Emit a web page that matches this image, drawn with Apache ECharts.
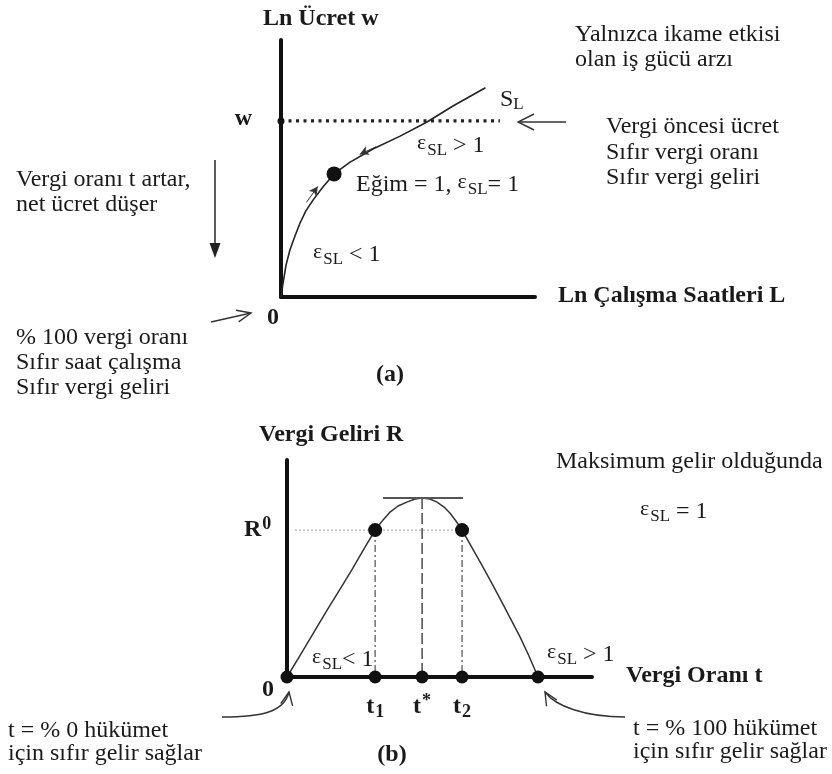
<!DOCTYPE html>
<html>
<head>
<meta charset="utf-8">
<script src="https://cdn.jsdelivr.net/npm/echarts@6/dist/echarts.min.js"></script>
<style>
  html, body { margin: 0; padding: 0; background: #ffffff; }
  #chart { width: 832px; height: 774px; }
</style>
</head>
<body>
<div id="chart"></div>
<script>
// Panel (a): labour supply with only a substitution effect, log wage vs log hours
const supplyLnL = [0, 0.04, 0.08, 0.20, 0.35, 0.55, 0.75, 0.98, 1.26, 1.65, 2.09, 2.72, 3.62, 4.69, 5.75, 6.77, 8.03];
const supplyLnW = [0, 0.27, 0.54, 1.25, 1.83, 2.37, 2.88, 3.35, 3.77, 4.28, 4.79, 5.25, 5.76, 6.26, 6.81, 7.43, 8.13];
const unitElasticPoint = [2.09, 4.79];
const preTaxWage = 6.85;
const wageLineEnd = 8.62;

// Panel (b): Laffer curve, tax revenue vs tax rate
const taxRate = [0, 0.43, 0.85, 1.28, 1.74, 2.13, 2.49, 2.69, 2.89, 3.15, 3.38, 3.64, 3.93, 4.20, 4.43,
                 4.69, 4.92, 5.15, 5.34, 5.54, 5.74, 6.00, 6.33, 6.66, 6.98, 7.31, 7.64, 7.93, 8.23];
const revenue = [0, 1.00, 1.99, 3.00, 4.05, 4.95, 5.82, 6.30, 6.77, 7.24, 7.60, 7.88, 8.06, 8.20, 8.25,
                 8.20, 8.06, 7.83, 7.56, 7.19, 6.77, 6.12, 5.30, 4.46, 3.62, 2.74, 1.85, 0.98, 0];
const t1 = 2.89, tStar = 4.43, t2 = 5.74, tFull = 8.23;
const r0 = 6.77, rMax = 8.25;
const tangentSpan = [3.15, 5.77];
const r0LineStart = 0.26;

const SERIF = "'Liberation Serif', 'Times New Roman', serif";
const INK = '#1a1a1a';
const FS = 24;

const zip = (xs, ys) => xs.map((x, i) => [x, ys[i]]);

// rich text styles shared by annotations (epsilon with subscript, sub/superscripts)
function richSet(size) {
  return {
    eps: { fontFamily: SERIF, fontSize: size - 2, fontWeight: 'normal', fill: INK, color: INK, padding: [0, 1, 6, 0] },
    sl: { fontFamily: SERIF, fontSize: size - 7, fontWeight: 'normal', fill: INK, color: INK, padding: [9, 0, 0, 0] },
    n: { fontFamily: SERIF, fontSize: size, fontWeight: 'normal', fill: INK, color: INK },
    b: { fontFamily: SERIF, fontSize: size, fontWeight: 'bold', fill: INK, color: INK },
    bsub: { fontFamily: SERIF, fontSize: size - 6, fontWeight: 'bold', fill: INK, color: INK, padding: [11, 0, 0, 1] },
    bsup: { fontFamily: SERIF, fontSize: size - 6, fontWeight: 'bold', fill: INK, color: INK, padding: [0, 0, 11, 1] },
    sub: { fontFamily: SERIF, fontSize: size - 7, fontWeight: 'normal', fill: INK, color: INK, padding: [10, 0, 0, 0] }
  };
}
const RICH = richSet(FS);

function txt(x, y, text, opt) {
  opt = opt || {};
  return {
    type: 'text', x: x, y: y, silent: true, z: 10,
    style: {
      text: text,
      fontFamily: SERIF,
      fontSize: opt.size || FS,
      fontWeight: opt.bold ? 'bold' : 'normal',
      fill: INK,
      lineHeight: opt.lh || 25,
      textAlign: opt.align || 'left',
      textVerticalAlign: opt.valign || 'middle',
      rich: RICH
    }
  };
}

function segment(x1, y1, x2, y2, w) {
  return { type: 'line', silent: true, z: 10, shape: { x1, y1, x2, y2 }, style: { stroke: '#333', lineWidth: w || 1.4 } };
}
function chevron(tipX, tipY, fromX, fromY, len, half) {
  const dx = tipX - fromX, dy = tipY - fromY, d = Math.hypot(dx, dy);
  const ux = dx / d, uy = dy / d, px = -uy, py = ux;
  const bx = tipX - ux * len, by = tipY - uy * len;
  return {
    type: 'polyline', silent: true, z: 10,
    shape: { points: [[bx + px * half, by + py * half], [tipX, tipY], [bx - px * half, by - py * half]] },
    style: { stroke: '#333', lineWidth: 1.4, fill: null }
  };
}
function curve(x1, y1, c1x, c1y, c2x, c2y, x2, y2) {
  return {
    type: 'bezierCurve', silent: true, z: 10,
    shape: { x1, y1, cpx1: c1x, cpy1: c1y, cpx2: c2x, cpy2: c2y, x2, y2 },
    style: { stroke: '#333', lineWidth: 1.4, fill: null }
  };
}

const axisStyle = {
  type: 'value', min: 0, max: 10,
  axisLine: { show: true, onZero: false, lineStyle: { color: '#111', width: 4 } },
  axisTick: { show: false }, axisLabel: { show: false }, splitLine: { show: false }
};

function plainLine(data, axis, style, z) {
  return {
    type: 'line', xAxisIndex: axis, yAxisIndex: axis, data: data,
    showSymbol: false, symbol: 'none', clip: false, silent: true, z: z || 2,
    smooth: false, lineStyle: Object.assign({ join: 'round', cap: 'round' }, style)
  };
}

const dotStyle = { color: '#111', opacity: 1 };

const chart = echarts.init(document.getElementById('chart'), null, { renderer: 'canvas' });

const option = {
  backgroundColor: '#ffffff',
  animation: false,
  grid: [
    { left: 281, top: 40, width: 254, height: 257 },
    { left: 287, top: 460, width: 305, height: 217 }
  ],
  xAxis: [
    Object.assign({ gridIndex: 0 }, axisStyle),
    Object.assign({ gridIndex: 1 }, axisStyle)
  ],
  yAxis: [
    Object.assign({ gridIndex: 0 }, axisStyle),
    Object.assign({ gridIndex: 1 }, axisStyle)
  ],
  series: [
    // (a) supply curve S_L with small arrows along the tangent at the unit-elastic point
    Object.assign(plainLine(zip(supplyLnL, supplyLnW), 0, { color: '#222', width: 1.6 }), {
      markLine: {
        silent: true, symbol: ['none', 'arrow'], symbolSize: [7, 9],
        label: { show: false },
        lineStyle: { color: '#333', width: 1, type: 'solid' },
        data: [
          [{ coord: [3.75, 5.85] }, { coord: [3.1, 5.55] }],
          [{ coord: [1.0, 3.68] }, { coord: [1.45, 4.3] }]
        ]
      }
    }),
    // (a) pre-tax wage level
    plainLine([[0, preTaxWage], [wageLineEnd, preTaxWage]], 0, { color: '#222', width: 3.2, type: [3, 4.5], cap: 'butt' }),
    {
      type: 'scatter', xAxisIndex: 0, yAxisIndex: 0, clip: false, silent: true, z: 4,
      itemStyle: dotStyle,
      data: [
        { value: unitElasticPoint, symbolSize: 15 },
        { value: [0, preTaxWage], symbolSize: 7 }
      ]
    },
    // (b) Laffer curve
    plainLine(zip(taxRate, revenue), 1, { color: '#333', width: 1.5 }),
    // (b) tangent at the revenue maximum
    plainLine([[tangentSpan[0], rMax], [tangentSpan[1], rMax]], 1, { color: '#555', width: 2.2, cap: 'butt' }),
    // (b) revenue level R0
    plainLine([[r0LineStart, r0], [t2, r0]], 1, { color: '#9a9a9a', width: 1, type: [2, 2], cap: 'butt' }),
    // (b) drop lines at t1, t*, t2
    plainLine([[t1, r0], [t1, 0]], 1, { color: '#666', width: 1.4, type: [7, 3, 2, 3], cap: 'butt' }),
    plainLine([[tStar, rMax], [tStar, 0]], 1, { color: '#555', width: 1.6, type: [11, 4], cap: 'butt' }),
    plainLine([[t2, r0], [t2, 0]], 1, { color: '#666', width: 1.4, type: [7, 3, 2, 3], cap: 'butt' }),
    {
      type: 'scatter', xAxisIndex: 1, yAxisIndex: 1, clip: false, silent: true, z: 4,
      symbolSize: 14, itemStyle: dotStyle,
      data: [[t1, r0], [t2, r0]]
    },
    {
      type: 'scatter', xAxisIndex: 1, yAxisIndex: 1, clip: false, silent: true, z: 4,
      symbolSize: 13, itemStyle: dotStyle,
      label: {
        show: false, position: 'bottom', distance: 9,
        fontFamily: SERIF, fontSize: FS, fontWeight: 'bold', color: INK,
        rich: { b: RICH.b, bsub: RICH.bsub, bsup: RICH.bsup }
      },
      data: [
        { value: [0, 0] },
        { value: [t1, 0], label: { show: true, formatter: '{b|t}{bsub|1}' } },
        { value: [tStar, 0], label: { show: true, formatter: '{b|t}{bsup|*}' } },
        { value: [t2, 0], label: { show: true, formatter: '{b|t}{bsub|2}' } },
        { value: [tFull, 0] }
      ]
    }
  ],
  graphic: [
    // ---- panel (a) texts ----
    txt(263, 19, 'Ln Ücret w', { bold: true }),
    txt(252, 119, 'w', { bold: true, align: 'right' }),
    txt(500, 100, '{n|S}{sub|L}'),
    txt(417, 146, '{eps|ε}{sl|SL}{n| > 1}'),
    txt(356, 185, '{n|Eğim = 1, }{eps|ε}{sl|SL}{n|= 1}'),
    txt(313, 255, '{eps|ε}{sl|SL}{n| < 1}'),
    txt(558, 296, 'Ln Çalışma Saatleri L', { bold: true }),
    txt(273, 318, '0', { bold: true, align: 'center' }),
    txt(390, 375, '(a)', { bold: true, align: 'center' }),
    txt(575, 22, 'Yalnızca ikame etkisi\nolan iş gücü arzı', { valign: 'top', lh: 25 }),
    txt(606, 114, 'Vergi öncesi ücret\nSıfır vergi oranı\nSıfır vergi geliri', { valign: 'top', lh: 25.5 }),
    txt(16, 167, 'Vergi oranı t artar,\nnet ücret düşer', { valign: 'top', lh: 25 }),
    txt(16, 325, '% 100 vergi oranı\nSıfır saat çalışma\nSıfır vergi geliri', { valign: 'top', lh: 25 }),
    // ---- panel (a) arrows ----
    segment(566, 122, 518, 122),
    chevron(518, 122, 566, 122, 16, 8),
    segment(215, 160, 215, 246, 1.6),
    {
      type: 'polygon', silent: true, z: 10,
      shape: { points: [[209.5, 243], [220.5, 243], [215, 258]] },
      style: { fill: '#222' }
    },
    segment(211, 322, 251, 313),
    chevron(251, 313, 211, 322, 14, 6),
    // ---- panel (b) texts ----
    txt(259, 435, 'Vergi Geliri R', { bold: true }),
    txt(244, 530, '{b|R}{bsup|0}'),
    txt(556, 462, 'Maksimum gelir olduğunda'),
    txt(640, 512, '{eps|ε}{sl|SL}{n| = 1}'),
    txt(312, 660, '{eps|ε}{sl|SL}{n|< 1}'),
    txt(547, 655, '{eps|ε}{sl|SL}{n| > 1}'),
    txt(626, 676, 'Vergi Oranı t', { bold: true }),
    txt(268, 690, '0', { bold: true, align: 'center' }),
    txt(392, 755, '(b)', { bold: true, align: 'center' }),
    txt(8, 719, 't = % 0 hükümet\niçin sıfır gelir sağlar', { valign: 'top', lh: 23 }),
    txt(633, 717, 't = % 100 hükümet\niçin sıfır gelir sağlar', { valign: 'top', lh: 23 }),
    // ---- panel (b) arrows ----
    curve(222, 717, 262, 717, 284, 712, 289, 692),
    chevron(289, 692, 287, 703, 13, 6),
    curve(625, 717, 585, 717, 555, 706, 545, 692),
    chevron(545, 692, 551, 702, 13, 6)
  ]
};

chart.setOption(option);
</script>
</body>
</html>
